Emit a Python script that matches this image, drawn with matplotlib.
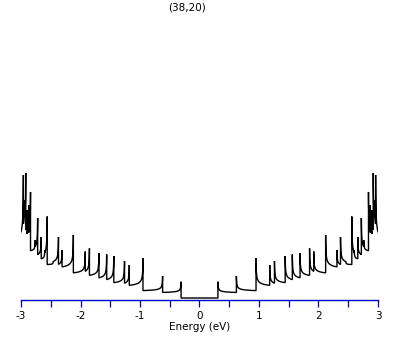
import numpy as np
import matplotlib
matplotlib.use("Agg")
import matplotlib.pyplot as plt

plt.rcParams['axes.unicode_minus'] = False
plt.rcParams['font.family'] = ['DejaVu Sans']

# ---- data (DOS in arbitrary units, axis = 0) ----
title = "(38,20)"
plateau = 0.02                      # metallic plateau for |E| < first singularity
# positive-energy van Hove singularities (spectrum is symmetric)
vhs_energy = [0.31, 0.62, 0.95, 1.18, 1.26, 1.44, 1.56, 1.69, 1.85, 1.92,
              2.12, 2.31, 2.37, 2.46, 2.56, 2.60, 2.66, 2.72, 2.76, 2.84,
              2.87, 2.90, 2.92, 2.94, 2.96]
vhs_peak = [0.183, 0.24, 0.42, 0.35, 0.39, 0.44, 0.455, 0.47, 0.515, 0.485,
            0.65, 0.50, 0.63, 0.38, 0.835, 0.50, 0.63, 0.82, 0.60, 1.08,
            0.95, 0.90, 1.27, 1.00, 1.25]
vhs_floor = [0.065, 0.08, 0.115, 0.13, 0.145, 0.165, 0.185, 0.215, 0.235, 0.245,
             0.29, 0.32, 0.335, 0.35, 0.36, 0.39, 0.41, 0.44, 0.47, 0.52,
             0.55, 0.60, 0.62, 0.64, 0.50]
e_max = 3.0
xticks_major = [-3, -2, -1, 0, 1, 2, 3]
xticks_minor = [-2.5, -1.5, -0.5, 0.5, 1.5, 2.5]
xlabel = "Energy (eV)"


def positive_branch():
    xs = [0.0, vhs_energy[0]]
    ys = [plateau, plateau]
    w = 0.0025
    for i, e0 in enumerate(vhs_energy):
        e1 = vhs_energy[i + 1] if i + 1 < len(vhs_energy) else e_max
        seg = e0 + np.geomspace(1e-5, e1 - e0, 40)
        seg = np.concatenate([[e0], seg])
        val = vhs_floor[i] + (vhs_peak[i] - vhs_floor[i]) * np.sqrt(w / (seg - e0 + w))
        xs.extend(seg.tolist())
        ys.extend(val.tolist())
    return np.array(xs), np.array(ys)


xp, yp = positive_branch()
x = np.concatenate([-xp[::-1], xp])
y = np.concatenate([yp[::-1], yp])

W, H = 409, 345
fig = plt.figure(figsize=(W / 100, H / 100), dpi=100)
left, right, bottom, top = 21, 378, 300, 25
ax = fig.add_axes([left / W, 1 - bottom / H, (right - left) / W, (bottom - top) / H])
ax.plot(x, y, color='black', lw=1.0, solid_joinstyle='miter')
ax.set_xlim(-3, 3)
ax.set_ylim(0, (bottom - top) / 100)

blue = '#0000c8'
for s in ['left', 'right', 'top']:
    ax.spines[s].set_visible(False)
ax.spines['bottom'].set_color(blue)
ax.spines['bottom'].set_linewidth(1.0)
ax.set_yticks([])
ax.set_xticks(xticks_major)
ax.set_xticklabels([str(t) for t in xticks_major])
ax.set_xticks(xticks_minor, minor=True)
ax.tick_params(axis='x', which='both', direction='out', length=5, width=0.9,
               color=blue, labelsize=7.5, pad=3, labelcolor='black')
ax.set_xlabel(xlabel, fontsize=7.5, labelpad=1)
ax.patch.set_visible(False)

fig.text(187 / W, 1 - 7 / H, title, ha='center', va='center', fontsize=7.5)

fig.savefig('out.png', dpi=100)
